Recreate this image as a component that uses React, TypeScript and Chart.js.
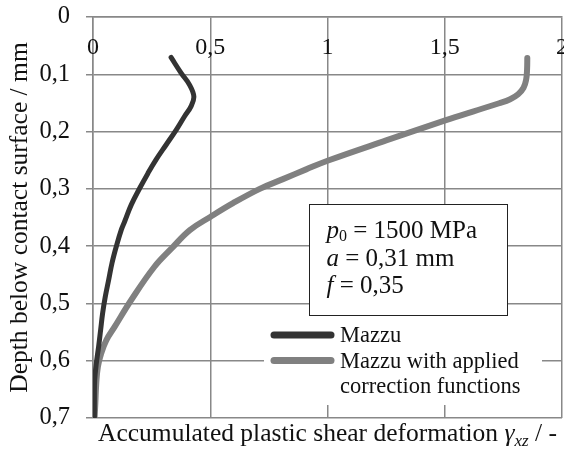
import React, { useEffect, useRef } from 'react';
import { Chart, registerables } from 'chart.js';

Chart.register(...registerables);

const xTickValues = [0, 0.5, 1, 1.5, 2];
const xTickLabels = ['0', '0,5', '1', '1,5', '2'];
const yTickLabels = ['0', '0,1', '0,2', '0,3', '0,4', '0,5', '0,6', '0,7'];
const seriesNames = ['Mazzu', 'Mazzu with applied', 'correction functions'];
const yAxisTitle = 'Depth below contact surface / mm';
const xTitleMain = 'Accumulated plastic shear deformation ';
const xTitleSymbol = 'γ';
const xTitleSub = 'xz';
const xTitleTail = ' / -';

const mazzuDepth = [0.0706, 0.0979, 0.118, 0.1387, 0.156, 0.1737, 0.197, 0.223, 0.249, 0.273, 0.299, 0.328, 0.357, 0.3716, 0.4007, 0.4298, 0.459, 0.488, 0.517, 0.546, 0.575, 0.6045, 0.634, 0.665, 0.698];
const mazzuStrain = [0.333, 0.376, 0.411, 0.43, 0.418, 0.39, 0.355, 0.312, 0.269, 0.234, 0.199, 0.163, 0.135, 0.1206, 0.0993, 0.0809, 0.0667, 0.0525, 0.0411, 0.0326, 0.0241, 0.0142, 0.0071, 0.006, 0.006];

const correctedDepth = [0.0716, 0.092, 0.1095, 0.1235, 0.1349, 0.1436, 0.1506, 0.165, 0.1806, 0.2155, 0.2505, 0.266, 0.283, 0.3, 0.325, 0.349, 0.372, 0.404, 0.436, 0.494, 0.541, 0.564, 0.587, 0.61, 0.639, 0.674, 0.698];
const correctedStrain = [1.852, 1.851, 1.847, 1.836, 1.813, 1.779, 1.732, 1.62, 1.502, 1.25, 1.003, 0.909, 0.81, 0.711, 0.597, 0.5, 0.413, 0.335, 0.262, 0.163, 0.092, 0.057, 0.035, 0.021, 0.014, 0.01, 0.007];

const paramSymbols = ['p', 'a', 'f'];
const paramSubs = ['0', '', ''];
const paramValues = [' = 1500 MPa', ' = 0,31 mm', ' = 0,35'];

const SERIF = '"Liberation Serif", "Times New Roman", serif';

const overlayPlugin = {
  id: 'overlay',
  afterDraw(chart: any) {
    const ctx = chart.ctx as CanvasRenderingContext2D;
    const area = chart.chartArea;
    const xs = chart.scales.x;
    ctx.save();

    // x tick labels (inside the plot, under the top axis)
    ctx.fillStyle = '#111';
    ctx.font = `24px ${SERIF}`;
    ctx.textAlign = 'center';
    ctx.textBaseline = 'middle';
    xTickValues.forEach((v, i) => {
      ctx.fillText(xTickLabels[i], xs.getPixelForValue(v), area.top + 31);
    });

    // annotation box
    const bx = 309.5, by = 204.5, bw = 198, bh = 111;
    ctx.fillStyle = '#ffffff';
    ctx.fillRect(bx, by, bw, bh);
    ctx.strokeStyle = '#222';
    ctx.lineWidth = 1;
    ctx.strokeRect(bx, by, bw, bh);
    ctx.fillStyle = '#111';
    ctx.textBaseline = 'alphabetic';
    ctx.textAlign = 'left';
    const baseY = [237.5, 265.5, 292.5];
    for (let i = 0; i < paramSymbols.length; i++) {
      let x = 326.5;
      ctx.font = `italic 25px ${SERIF}`;
      ctx.fillText(paramSymbols[i], x, baseY[i]);
      x += ctx.measureText(paramSymbols[i]).width;
      if (paramSubs[i]) {
        ctx.font = `16px ${SERIF}`;
        ctx.fillText(paramSubs[i], x, baseY[i] + 3);
        x += ctx.measureText(paramSubs[i]).width;
      }
      ctx.font = `25px ${SERIF}`;
      ctx.fillText(paramValues[i], x, baseY[i]);
    }

    // legend box
    ctx.fillStyle = '#ffffff';
    ctx.fillRect(264, 316, 278, 89);
    ctx.lineCap = 'round';
    ctx.lineWidth = 7;
    ctx.strokeStyle = '#333333';
    ctx.beginPath();
    ctx.moveTo(274, 335);
    ctx.lineTo(331, 335);
    ctx.stroke();
    ctx.strokeStyle = '#808080';
    ctx.beginPath();
    ctx.moveTo(274, 360.5);
    ctx.lineTo(331, 360.5);
    ctx.stroke();
    ctx.fillStyle = '#111';
    ctx.font = `22.5px ${SERIF}`;
    ctx.fillText(seriesNames[0], 340, 342);
    ctx.fillText(seriesNames[1], 340, 367.5);
    ctx.fillText(seriesNames[2], 340, 393);

    // bottom axis title
    const parts = [
      { t: xTitleMain, f: `25.5px ${SERIF}`, dy: 0 },
      { t: xTitleSymbol, f: `italic 25.5px ${SERIF}`, dy: 0 },
      { t: xTitleSub, f: `italic 17px ${SERIF}`, dy: 5 },
      { t: xTitleTail, f: `25.5px ${SERIF}`, dy: 0 },
    ];
    let total = 0;
    for (const p of parts) {
      ctx.font = p.f;
      total += ctx.measureText(p.t).width;
    }
    let tx = (area.left + area.right) / 2 - total / 2;
    for (const p of parts) {
      ctx.font = p.f;
      ctx.fillText(p.t, tx, 441 + p.dy);
      tx += ctx.measureText(p.t).width;
    }
    ctx.restore();
  },
};

export default function App() {
  const canvasRef = useRef<HTMLCanvasElement | null>(null);

  useEffect(() => {
    const canvas = canvasRef.current;
    if (!canvas) return;
    const mazzu = mazzuDepth.map((d, i) => ({ x: mazzuStrain[i], y: d }));
    const corrected = correctedDepth.map((d, i) => ({ x: correctedStrain[i], y: d }));
    const gridColor = '#888888';
    const chart = new Chart(canvas, {
      type: 'line',
      data: {
        datasets: [
          {
            label: seriesNames[0],
            data: mazzu,
            borderColor: '#333333',
            borderWidth: 5,
            pointRadius: 0,
            fill: false,
            tension: 0.4,
            borderCapStyle: 'round',
            borderJoinStyle: 'round',
          },
          {
            label: seriesNames[1] + ' ' + seriesNames[2],
            data: corrected,
            borderColor: '#808080',
            borderWidth: 6,
            pointRadius: 0,
            fill: false,
            tension: 0.4,
            borderCapStyle: 'round',
            borderJoinStyle: 'round',
          },
        ],
      },
      options: {
        indexAxis: 'y',
        animation: false,
        responsive: false,
        devicePixelRatio: 1,
        layout: { padding: { left: 0, right: 2, top: 0, bottom: 46 } },
        plugins: {
          legend: { display: false },
          tooltip: { enabled: false },
        },
        scales: {
          x: {
            type: 'linear',
            position: 'top',
            min: 0,
            max: 2,
            ticks: { stepSize: 0.5, display: false },
            grid: { color: gridColor, lineWidth: 1.5, drawTicks: false },
            border: { color: gridColor, width: 1.5 },
            afterFit: (s: any) => {
              s.height = 17;
              s.paddingLeft = 0;
              s.paddingRight = 0;
            },
          },
          y: {
            type: 'linear',
            position: 'left',
            reverse: true,
            min: 0,
            max: 0.7,
            ticks: {
              stepSize: 0.1,
              padding: 16,
              color: '#111',
              font: { family: SERIF, size: 24.5 },
              callback: (v: any) => yTickLabels[Math.round(Number(v) * 10)] ?? '',
            },
            grid: { color: gridColor, lineWidth: 1.5, tickLength: 7 },
            border: { color: gridColor, width: 1.5 },
            title: {
              display: true,
              text: yAxisTitle,
              color: '#111',
              font: { family: SERIF, size: 25.5 },
              padding: { top: 5, bottom: 0 },
            },
            afterFit: (s: any) => {
              s.width = 93;
              s.paddingTop = 0;
              s.paddingBottom = 0;
            },
          },
        },
      },
      plugins: [overlayPlugin],
    } as any);
    return () => chart.destroy();
  }, []);

  return (
    <div style={{ position: 'absolute', left: 0, top: 0, width: 564, height: 464, background: '#fff' }}>
      <canvas ref={canvasRef} width={564} height={464} />
    </div>
  );
}
